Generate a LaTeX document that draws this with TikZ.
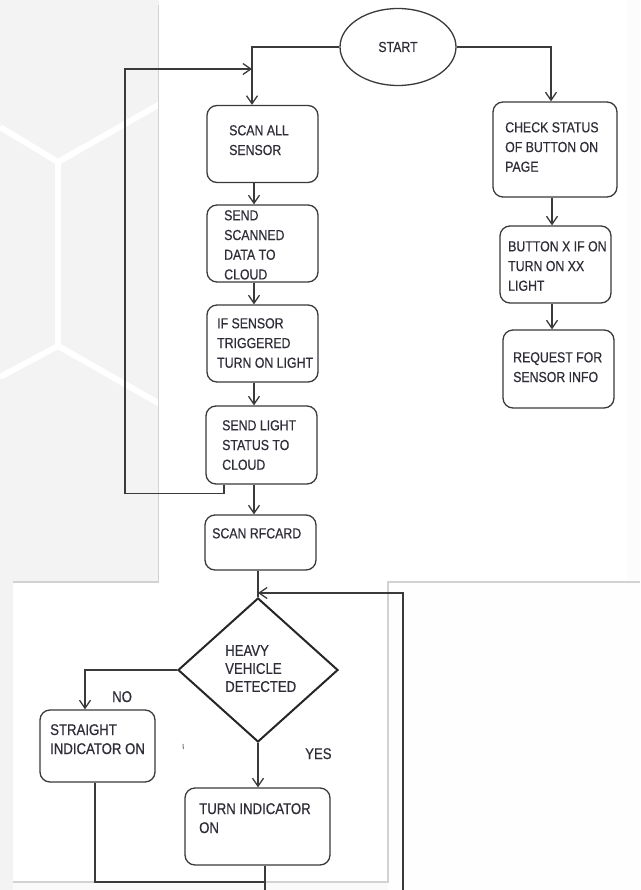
\documentclass[tikz,border=0pt]{standalone}
\usepackage{fontspec}
\setmainfont[FakeStretch=0.85, FakeBold=0.5]{Liberation Sans}
\usetikzlibrary{arrows.meta,shapes.geometric,calc}
\definecolor{bgc}{HTML}{F3F3F3}
\definecolor{panelc}{HTML}{D2D2D2}
\definecolor{ink}{HTML}{3A3A3A}
\definecolor{txtc}{HTML}{2E2E38}
\tikzset{
  procbox/.style={draw=ink, line width=1.3pt, rounded corners=10pt, rectangle,
    inner sep=0pt, minimum width=111pt, minimum height=77pt},
  txt/.style={inner sep=0pt, anchor=north west, align=left, text=txtc,
    font=\fontsize{14.5}{19.7}\selectfont},
  txtlow/.style={txt, font=\fontsize{15.5}{19}\selectfont},
  conn/.style={draw=ink, line width=1.4pt},
  arr/.style={conn, -{Straight Barb[length=8pt,width=11pt,line width=1.3pt]}},
  panel/.style={draw=panelc, line width=1.5pt}
}
\begin{document}
\begin{tikzpicture}[x=1pt,y=-1pt]
\useasboundingbox (0,0) rectangle (640,890);
\clip (0,0) rectangle (640,890);

% backdrop with faint hexagon bands
\fill[bgc] (0,0) rectangle (640,890);
\draw[white, line width=6pt] (0,127) -- (58,162) -- (160,104);
\draw[white, line width=6pt] (58,162) -- (58,346);
\draw[white, line width=6pt] (0,377) -- (58,346) -- (160,404);
\fill[white!96!bgc] (388,582) rectangle (640,890);
\fill[white!60!bgc] (13,882) rectangle (388,890);

% sheets
\fill[white] (158.5,0) rectangle (627,582);
\fill[white!75!bgc] (627,0) rectangle (640,582);
\fill[white] (13,582) rectangle (388,882);
\draw[panel] (158.5,5) -- (158.5,582) -- (13,582);
\draw[panel] (640,582) -- (388,582) -- (388,882) -- (13,882);

% start
\node[draw=ink, line width=1.3pt, ellipse, inner sep=0pt,
      minimum width=116pt, minimum height=77pt, text=txtc,
      font=\fontsize{14.5}{17}\selectfont] (start) at (398,47) {START\\[4pt]};

% left column
\node[procbox] (scan)   at (262.5,144)   {};
\node[procbox] (send)   at (262.5,243.5) {};
\node[procbox] (trig)   at (262.5,343.5) {};
\node[procbox, minimum height=78pt] (light) at (261.5,445) {};
\node[procbox, minimum height=55pt] (rfcard) at (260.5,542.5) {};

\node[txt] (tscan)   at (229,125) {SCAN ALL\\SENSOR};
\node[txt] (tsend)   at (224,210) {SEND\\SCANNED\\DATA TO\\CLOUD};
\node[txt] (ttrig)   at (217,318) {IF SENSOR\\TRIGGERED\\TURN ON LIGHT};
\node[txt] (tlight)  at (222,420) {SEND LIGHT\\STATUS TO\\CLOUD};
\node[txt] (trfcard) at (212,528) {SCAN RFCARD};

% right column
\node[procbox, minimum width=124pt, minimum height=95pt] (check) at (555,149.5) {};
\node[procbox] (button)  at (555.5,264.5) {};
\node[procbox, minimum height=78pt] (request) at (558.5,369) {};

\node[txt] (tcheck)   at (505,122) {CHECK STATUS\\OF BUTTON ON\\PAGE};
\node[txt] (tbutton)  at (508,241) {BUTTON X IF ON\\TURN ON XX\\LIGHT};
\node[txt] (trequest) at (513,352) {REQUEST FOR\\SENSOR INFO};

% decision part
\node[draw=black!85, line width=2pt, diamond, inner sep=0pt,
      minimum width=160pt, minimum height=144pt] (dec) at (258,670) {};
\node[txtlow, font=\fontsize{15.5}{18}\selectfont] (tdec) at (225,645) {HEAVY\\VEHICLE\\DETECTED};

\node[procbox, minimum width=115pt, minimum height=72pt] (straight) at (97.5,746) {};
\node[procbox, minimum width=145pt, minimum height=77pt] (turn) at (257.5,826.5) {};
\node[txtlow] (tstraight) at (50,724) {STRAIGHT\\INDICATOR ON};
\node[txtlow] (tturn)     at (199,803) {TURN INDICATOR\\ON};
\node[txtlow] (tno)  at (112,691) {NO};
\node[txtlow] (tyes) at (305,748) {YES};
\draw[gray, line width=1pt] (183,744) -- (183.4,749);

% connectors
\coordinate (mergeA) at (252,69);
\coordinate (mergeB) at (258,593);
\coordinate (jbot) at (265,882);

\draw[arr] (start.west) -| ([xshift=-10.5pt]scan.north);
\draw[arr] (start.east) -| ([xshift=-4pt]check.north);
\draw[arr] ([xshift=-8.5pt]scan.south) -- ([xshift=-8.5pt]send.north);
\draw[arr] ([xshift=-8.5pt]send.south) -- ([xshift=-8.5pt]trig.north);
\draw[arr] ([xshift=-8.5pt]trig.south) -- ([xshift=-7.5pt]light.north);
\draw[arr] ([xshift=-7.5pt]light.south) -- ([xshift=-6.5pt]rfcard.north);
\draw[arr] ([xshift=-37.5pt]light.south) -- ++(0,9) -| (125,69) -- (mergeA);

\draw[arr] ([xshift=-3pt]check.south) -- ([xshift=-3.5pt]button.north);
\draw[arr] ([xshift=-3.5pt]button.south) -- ([xshift=-6.5pt]request.north);

\draw[conn] (dec.north |- rfcard.south) -- (dec.north);
\draw[arr] (dec.west) -| ([xshift=-12.5pt]straight.north);
\draw[arr] (dec.south) -- (dec.south |- turn.north);
\draw[conn, line width=1.8pt] ([xshift=-2.5pt]straight.south) |- (jbot);
\draw[arr, line width=1.8pt] ([xshift=7.5pt]turn.south) -- ++(0,40) -| (403,593) -- (mergeB);
\end{tikzpicture}
\end{document}
